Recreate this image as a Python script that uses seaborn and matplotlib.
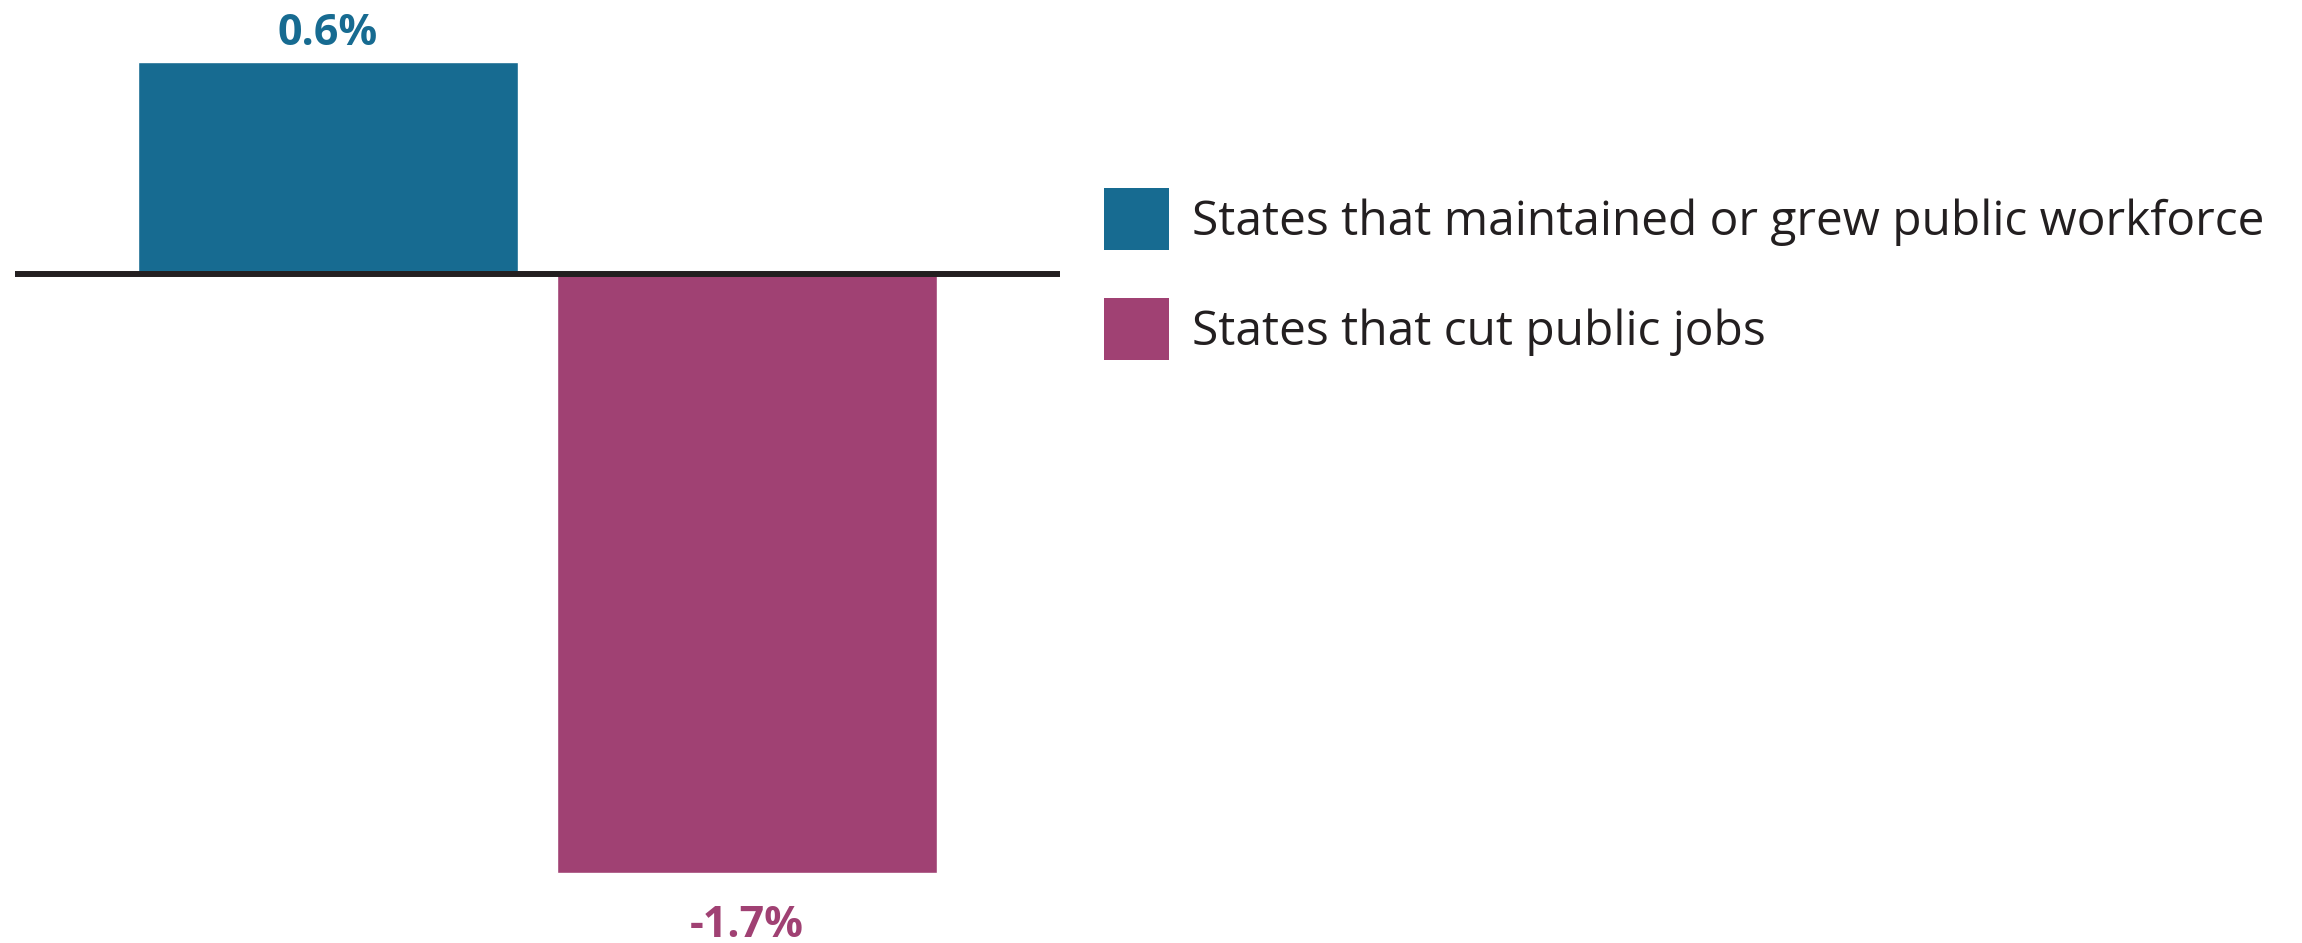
import matplotlib
matplotlib.use("Agg")
import matplotlib.pyplot as plt
from matplotlib.patches import Patch
import seaborn as sns
import pandas as pd

categories = ["States that maintained or grew public workforce", "States that cut public jobs"]
values = [0.6, -1.7]
labels = ["0.6%", "-1.7%"]
colors = ["#176B91", "#A04173"]

sns.set_style("white")
plt.rcParams["font.family"] = ["Open Sans", "DejaVu Sans"]

W, H = 2302, 943
fig = plt.figure(figsize=(W / 100, H / 100), dpi=100)
ax = fig.add_axes([0, 0, 1, 1])

df = pd.DataFrame({"cat": categories, "val": values})
sns.barplot(data=df, x="cat", y="val", hue="cat", palette=colors, width=0.908,
            legend=False, ax=ax, saturation=1)

ax.set_xlim(-0.784, 4.717)
ax.set_ylim(-1.897, 0.775)
ax.axis("off")

ax.plot([-0.748, 1.749], [0, 0], color="#231F20", lw=4.3, solid_capstyle="butt", zorder=5)

ax.text(0, 0.647, labels[0], ha="center", va="baseline", fontsize=31,
        fontweight="bold", color=colors[0])
ax.text(1, -1.880, labels[1], ha="center", va="baseline", fontsize=31,
        fontweight="bold", color=colors[1])

handles = [Patch(facecolor=c, edgecolor="none") for c in colors]
fs = 34.5
fspx = fs * 100 / 72
hh = (62 / fspx - 0.245) / 0.65
leg = fig.legend(handles, categories, loc="upper left",
                 bbox_to_anchor=(1104 / W, 1 - 188 / H), frameon=False,
                 fontsize=fs, handlelength=65 / fspx, handleheight=hh,
                 handletextpad=23 / fspx, labelspacing=1.0, borderpad=0,
                 borderaxespad=0)
for t in leg.get_texts():
    t.set_color("#231F20")

fig.savefig("out.png", dpi=100, facecolor="white")
